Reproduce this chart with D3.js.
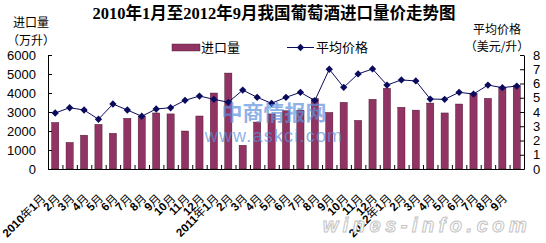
<!DOCTYPE html>
<html>
<head>
<meta charset="utf-8">
<script src="https://cdn.jsdelivr.net/npm/d3@7"></script>
<style>
  body { margin: 0; background: #fff; }
  svg { display: block; }
  .cn { font-family: "Noto Sans CJK SC", sans-serif; }
</style>
</head>
<body>
<div id="chart"></div>
<script>
// months, 2010-01 .. 2012-09
const months = [
  "2010年1月", "2月", "3月", "4月", "5月", "6月", "7月", "8月", "9月", "10月", "11月", "12月",
  "2011年1月", "2月", "3月", "4月", "5月", "6月", "7月", "8月", "9月", "10月", "11月", "12月",
  "2012年1月", "2月", "3月", "4月", "5月", "6月", "7月", "8月", "9月"
];

// import volume, 10k litres
const volume = [
  2450, 1400, 1780, 2350, 1880, 2670, 2790, 2950, 2900, 2000, 2790, 4000,
  5050, 1250, 2470, 2900, 3070, 3100, 3720, 2980, 3510, 2560, 3670, 4250,
  3250, 3100, 3470, 2950, 3420, 3980, 3720, 4300, 4380
];

// average price, USD / litre
const price = [
  3.93, 4.30, 4.14, 3.49, 4.56, 4.14, 3.70, 4.21, 4.30, 4.82, 5.12, 4.89,
  4.68, 5.54, 5.03, 4.61, 5.03, 5.38, 4.80, 7.00, 5.73, 6.67, 7.02, 5.89,
  6.25, 6.18, 4.91, 4.89, 5.38, 5.26, 5.89, 5.71, 5.82
];

const volTicks = [0, 1000, 2000, 3000, 4000, 5000, 6000];
const priceTicks = [0, 1, 2, 3, 4, 5, 6, 7, 8];

const W = 546, H = 243;
const plotL = 48, plotR = 524, plotT = 55, plotB = 169;
const barColor = "#923463";
const lineColor = "#0b0b5e";

const svg = d3.select("#chart").append("svg")
  .attr("width", W)
  .attr("height", H);

const x = d3.scaleBand()
  .domain(months.map((m, i) => i))
  .range([plotL, plotR])
  .paddingInner(0.5)
  .paddingOuter(0.25);

const xEdge = d3.scaleLinear().domain([0, months.length]).range([plotL, plotR]);
const yVol = d3.scaleLinear().domain([0, 6000]).range([plotB, plotT]);
const yPrice = d3.scaleLinear().domain([0, 8]).range([plotB, plotT]);

// title
svg.append("text")
  .attr("x", 274)
  .attr("y", 19)
  .attr("text-anchor", "middle")
  .attr("font-family", "'Liberation Serif', 'Noto Sans CJK SC', serif")
  .attr("font-weight", "bold")
  .attr("font-size", "16.5px")
  .text("2010年1月至2012年9月我国葡萄酒进口量价走势图");

// axis titles
const axTitle = (tx, lines, ys) => {
  lines.forEach((t, i) => {
    svg.append("text")
      .attr("class", "cn")
      .attr("x", tx)
      .attr("y", ys[i])
      .attr("text-anchor", "middle")
      .attr("font-size", "12px")
      .text(t);
  });
};
axTitle(31, ["进口量", "（万升）"], [27, 44.5]);
axTitle(497, ["平均价格", "（美元/升）"], [33.5, 51]);

// bars
svg.append("g").selectAll("rect")
  .data(volume)
  .enter()
  .append("rect")
  .attr("x", (d, i) => x(i))
  .attr("y", d => yVol(d))
  .attr("width", x.bandwidth())
  .attr("height", d => yVol(0) - yVol(d))
  .attr("fill", barColor)
  .attr("stroke", "#3d1027")
  .attr("stroke-width", 0.4);

// axes
const axisFont = g => g.selectAll("text")
  .attr("font-family", "'Liberation Sans', Arial, sans-serif")
  .attr("font-size", "13px")
  .attr("fill", "#000");

svg.append("g")
  .attr("transform", `translate(${plotL},0)`)
  .call(d3.axisLeft(yVol).tickValues(volTicks).tickFormat(d3.format("d"))
    .tickSize(-4).tickPadding(12).tickSizeOuter(0))
  .call(axisFont)
  .call(g => g.selectAll("line,path").attr("stroke", "#000"));

svg.append("g")
  .attr("transform", `translate(${plotR},0)`)
  .call(d3.axisRight(yPrice).tickValues(priceTicks).tickFormat(d3.format("d"))
    .tickSize(-4).tickPadding(9).tickSizeOuter(0))
  .call(axisFont)
  .call(g => g.selectAll("line,path").attr("stroke", "#000"));

svg.append("g")
  .attr("transform", `translate(0,${plotB})`)
  .call(d3.axisBottom(xEdge).tickValues(d3.range(months.length + 1)).tickSize(-4).tickFormat("").tickSizeOuter(0))
  .call(g => g.selectAll("line,path").attr("stroke", "#000"));

// x labels, rotated; digits bold, CJK plain
const xLabels = svg.append("g").selectAll("text")
  .data(months)
  .enter()
  .append("text")
  .attr("class", "cn")
  .attr("transform", (d, i) => `translate(${x(i) + x.bandwidth() / 2 - 9},${plotB + 30}) rotate(-45)`)
  .attr("text-anchor", "end")
  .attr("font-size", "11.5px");

xLabels.selectAll("tspan")
  .data(d => d.match(/\d+|[^\d]+/g))
  .enter()
  .append("tspan")
  .attr("font-weight", t => /\d/.test(t) ? "bold" : "normal")
  .attr("font-family", t => /\d/.test(t) ? "'Liberation Sans', Arial, sans-serif" : null)
  .text(t => t);

// price line
const line = d3.line()
  .x((d, i) => x(i) + x.bandwidth() / 2)
  .y(d => yPrice(d));

svg.append("path")
  .datum(price)
  .attr("d", line)
  .attr("fill", "none")
  .attr("stroke", lineColor)
  .attr("stroke-width", 1);

const diamond = d3.symbol().type(d3.symbolDiamond2).size(34);

svg.append("g").selectAll("path")
  .data(price)
  .enter()
  .append("path")
  .attr("transform", (d, i) => `translate(${x(i) + x.bandwidth() / 2},${yPrice(d)})`)
  .attr("d", diamond)
  .attr("fill", lineColor);

// legend
svg.append("rect")
  .attr("x", 172).attr("y", 44)
  .attr("width", 28).attr("height", 7)
  .attr("fill", barColor)
  .attr("stroke", "#3d1027")
  .attr("stroke-width", 0.4);
svg.append("text")
  .attr("class", "cn")
  .attr("x", 201).attr("y", 52)
  .attr("font-size", "13px")
  .text("进口量");
svg.append("line")
  .attr("x1", 287).attr("x2", 314)
  .attr("y1", 47.5).attr("y2", 47.5)
  .attr("stroke", lineColor);
svg.append("path")
  .attr("transform", "translate(300.5,47.5)")
  .attr("d", diamond)
  .attr("fill", lineColor);
svg.append("text")
  .attr("class", "cn")
  .attr("x", 316).attr("y", 52)
  .attr("font-size", "13px")
  .text("平均价格");

// watermarks
svg.append("text")
  .attr("class", "cn")
  .attr("x", 274).attr("y", 120)
  .attr("text-anchor", "middle")
  .attr("font-size", "21px")
  .attr("font-weight", "bold")
  .attr("fill", "#5b90dc")
  .attr("fill-opacity", 0.7)
  .text("中商情报网");
svg.append("text")
  .attr("x", 274).attr("y", 142)
  .attr("text-anchor", "middle")
  .attr("font-family", "'Liberation Sans', Arial, sans-serif")
  .attr("font-size", "18px")
  .attr("letter-spacing", "1.2px")
  .attr("fill", "#5b90dc")
  .attr("fill-opacity", 0.7)
  .text("www.askci.com");
svg.append("text")
  .attr("x", 427).attr("y", 232)
  .attr("text-anchor", "middle")
  .attr("font-family", "'Liberation Sans', Arial, sans-serif")
  .attr("font-size", "20px")
  .attr("font-weight", "bold")
  .attr("font-style", "italic")
  .attr("letter-spacing", "4.5px")
  .attr("fill", "#fff")
  .attr("stroke", "#c4c4c4")
  .attr("stroke-width", 1)
  .text("wines-info.com");
</script>
</body>
</html>
